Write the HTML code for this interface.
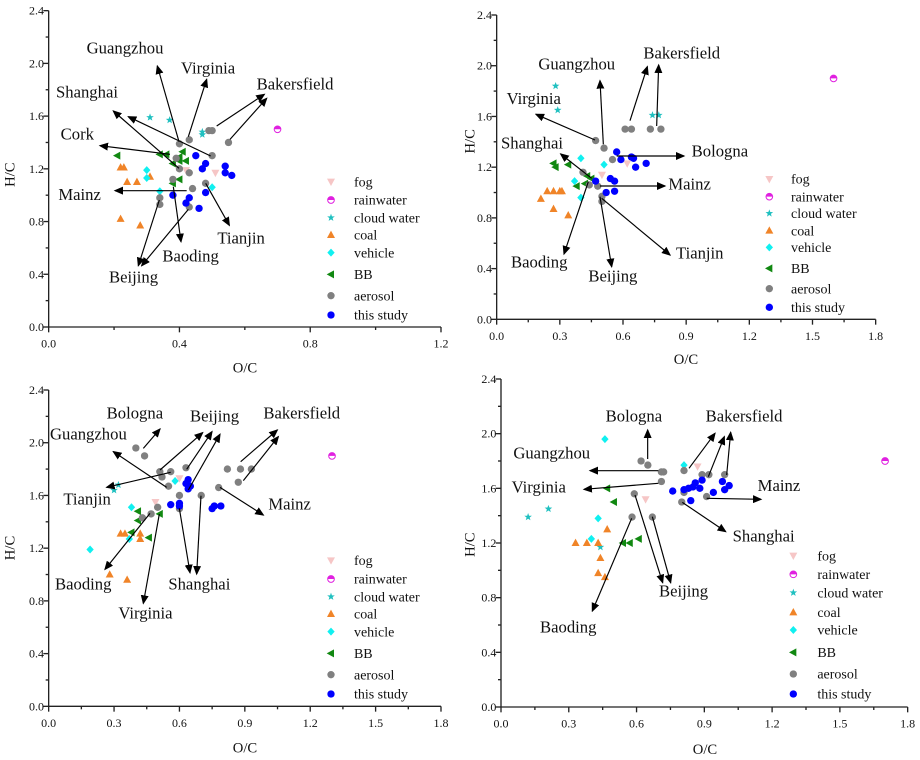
<!DOCTYPE html>
<html><head><meta charset="utf-8"><style>
html,body{margin:0;padding:0;background:#fff;}
svg{display:block;}
svg text{font-family:"Liberation Serif","DejaVu Serif",serif !important;fill:#111;}
</style></head><body>
<svg id="chart" width="920" height="760" viewBox="0 0 920 760" font-family="Liberation Serif, serif">
<defs><marker id="ah" markerUnits="userSpaceOnUse" markerWidth="28" markerHeight="24" refX="24" refY="12" orient="auto"><path d="M0,0 L28,12 L0,24 z" fill="#000"/></marker></defs>
</svg>
<script>
// ---- data: [O/C, H/C] pairs per series, per panel ----
const series = ["fog","rainwater","cloud water","coal","vehicle","BB","aerosol","this study"];
// panel A (top-left)
const aFog=[[0.42,1.19],[0.51,1.17]];
const aRain=[[0.70,1.50]];
const aCloud=[[0.31,1.59],[0.37,1.57],[0.47,1.48],[0.47,1.46]];
const aCoal=[[0.22,1.21],[0.23,1.21],[0.24,1.10],[0.27,1.10],[0.31,1.14],[0.22,0.82],[0.28,0.77]];
const aVeh=[[0.30,1.19],[0.30,1.13],[0.34,1.03],[0.50,1.06]];
const aBB=[[0.21,1.30],[0.34,1.31],[0.36,1.31],[0.38,1.24],[0.40,1.29],[0.41,1.33],[0.40,1.26],[0.42,1.26],[0.40,1.12],[0.38,1.09]];
const aAer=[[0.40,1.39],[0.43,1.42],[0.49,1.49],[0.50,1.49],[0.55,1.40],[0.50,1.30],[0.39,1.28],[0.40,1.20],[0.43,1.17],[0.38,1.12],[0.48,1.09],[0.44,1.05],[0.34,0.98],[0.34,0.93],[0.43,0.91]];
const aThis=[[0.45,1.30],[0.48,1.24],[0.47,1.20],[0.54,1.22],[0.54,1.17],[0.56,1.15],[0.48,1.02],[0.38,1.00],[0.43,0.98],[0.42,0.94],[0.46,0.90]];
// panel B (top-right)
const bFog=[[0.50,1.14],[0.62,1.23]];
const bRain=[[1.60,1.90]];
const bCloud=[[0.28,1.84],[0.29,1.65],[0.74,1.61],[0.77,1.61]];
const bCoal=[[0.21,0.95],[0.24,1.01],[0.27,1.01],[0.30,1.01],[0.31,1.01],[0.27,0.87],[0.34,0.82]];
const bVeh=[[0.40,1.27],[0.51,1.22],[0.37,1.09],[0.40,0.96]];
const bBB=[[0.27,1.23],[0.28,1.20],[0.34,1.22],[0.43,1.13],[0.45,1.11],[0.38,1.05],[0.42,1.07]];
const bAer=[[0.47,1.41],[0.51,1.35],[0.61,1.50],[0.64,1.50],[0.73,1.50],[0.78,1.50],[0.55,1.26],[0.41,1.16],[0.44,1.06],[0.48,1.05],[0.50,0.97],[0.50,0.93]];
const bThis=[[0.57,1.32],[0.59,1.26],[0.64,1.28],[0.65,1.27],[0.66,1.20],[0.71,1.23],[0.47,1.09],[0.54,1.11],[0.56,1.09],[0.52,1.00],[0.56,1.01]];
// panel C (bottom-left)
const cFog=[[0.49,1.55],[0.60,1.73]];
const cRain=[[1.30,1.90]];
const cCloud=[[0.30,1.64],[0.32,1.68]];
const cCoal=[[0.28,1.00],[0.36,0.96],[0.33,1.31],[0.35,1.31],[0.42,1.31],[0.42,1.27]];
const cVeh=[[0.19,1.19],[0.38,1.51],[0.37,1.27],[0.58,1.71]];
const cBB=[[0.41,1.48],[0.41,1.41],[0.38,1.32],[0.46,1.28],[0.51,1.46]];
const cAer=[[0.40,1.96],[0.44,1.90],[0.52,1.74],[0.56,1.78],[0.51,1.78],[0.55,1.67],[0.63,1.81],[0.60,1.60],[0.60,1.50],[0.50,1.51],[0.47,1.46],[0.43,1.43],[0.70,1.60],[0.78,1.66],[0.82,1.80],[0.88,1.80],[0.93,1.80],[0.87,1.70]];
const cThis=[[0.64,1.72],[0.63,1.69],[0.65,1.67],[0.64,1.65],[0.56,1.53],[0.60,1.54],[0.60,1.52],[0.75,1.50],[0.76,1.52],[0.79,1.52]];
// panel D (bottom-right)
const dFog=[[0.64,1.52],[0.87,1.76]];
const dRain=[[1.70,1.80]];
const dCloud=[[0.12,1.39],[0.21,1.45],[0.44,1.17]];
const dCoal=[[0.33,1.20],[0.38,1.20],[0.43,1.20],[0.44,1.09],[0.43,0.98],[0.46,0.95],[0.47,1.30]];
const dVeh=[[0.46,1.96],[0.81,1.77],[0.43,1.38],[0.40,1.23]];
const dBB=[[0.47,1.60],[0.50,1.50],[0.54,1.20],[0.57,1.20],[0.61,1.23]];
const dAer=[[0.62,1.80],[0.65,1.77],[0.71,1.72],[0.72,1.72],[0.71,1.65],[0.59,1.56],[0.58,1.39],[0.67,1.39],[0.81,1.73],[0.89,1.70],[0.92,1.70],[0.99,1.70],[0.81,1.57],[0.80,1.50],[0.91,1.54]];
const dThis=[[0.76,1.58],[0.81,1.59],[0.83,1.60],[0.85,1.61],[0.86,1.64],[0.89,1.66],[0.88,1.60],[0.84,1.51],[0.94,1.57],[0.98,1.65],[0.99,1.59],[1.01,1.62]];
const yTicks=[0,0.4,0.8,1.2,1.6,2.0,2.4];
const xTicksA=[0,0.4,0.8,1.2];
const xTicksB=[0,0.3,0.6,0.9,1.2,1.5,1.8];

const NS="http://www.w3.org/2000/svg";
const FONT='"Liberation Serif", serif';
const svg=document.getElementById('chart');
function mk(tag,attrs,parent){const e=document.createElementNS(NS,tag);for(const k in attrs)e.setAttribute(k,attrs[k]);if(tag==='text')e.style.fontFamily=FONT;parent.appendChild(e);return e;}
const styles={
 "fog":{t:"down",c:"#f6c6c6"},"rainwater":{t:"rain",c:"#e020e0"},"cloud water":{t:"star",c:"#20c0c0"},
 "coal":{t:"up",c:"#f08428"},"vehicle":{t:"diamond",c:"#10f0f0"},"BB":{t:"left",c:"#118811"},
 "aerosol":{t:"circle",c:"#808080"},"this study":{t:"circle",c:"#0000ff"}};
function marker(g,name,x,y){
 const s=styles[name];let e;
 if(s.t==="circle"){e=mk('circle',{cx:x,cy:y,r:11,fill:s.c},g);}
 else if(s.t==="rain"){e=mk('g',{},g);mk('circle',{cx:x,cy:y,r:10,fill:'#fff',stroke:s.c,'stroke-width':3},e);mk('path',{d:`M${x-10},${y} A10,10 0 0 1 ${x+10},${y} z`,fill:s.c},e);}
 else if(s.t==="up"){e=mk('polygon',{points:`${x},${y-13} ${x+12},${y+9} ${x-12},${y+9}`,fill:s.c},g);}
 else if(s.t==="down"){e=mk('polygon',{points:`${x},${y+13} ${x+12},${y-9} ${x-12},${y-9}`,fill:s.c},g);}
 else if(s.t==="left"){e=mk('polygon',{points:`${x-13},${y} ${x+9},${y-12} ${x+9},${y+12}`,fill:s.c},g);}
 else if(s.t==="diamond"){e=mk('polygon',{points:`${x},${y-12} ${x+11},${y} ${x},${y+12} ${x-11},${y}`,fill:s.c},g);}
 else {let p=[];for(let i=0;i<10;i++){const r=i%2?5:12,a=-Math.PI/2+i*Math.PI/5;p.push((x+r*Math.cos(a)).toFixed(1)+','+(y+r*Math.sin(a)).toFixed(1));}e=mk('polygon',{points:p.join(' '),fill:s.c},g);}
 return e;
}
const panels=[
 {id:"a",ox:0,oy:0,x0:146,x1:1323,xmax:1.2,xt:xTicksA,xminor:0.2,y0:981,yt:32,data:[aFog,aRain,aCloud,aCoal,aVeh,aBB,aAer,aThis],
  yTitle:[30,510],xTitle:[735,1118],leg:{mx:993,tx:1062,ys:[545,600,653,705,758,823,887,945]},
  labels:[["Guangzhou",260,160],["Virginia",543,220],["Bakersfield",770,268],["Shanghai",168,293],["Cork",182,418],["Mainz",175,600],["Tianjin",652,730],["Baoding",487,785],["Beijing",327,848]],
  arrows:[[537,425,472,198],[565,410,620,238],[650,378,793,283],[690,418,800,295],[537,505,340,333],[632,468,385,350],[510,463,300,437],[560,572,345,572],[617,550,688,676],[520,560,543,725],[478,600,415,797],[565,628,425,797]]},
 {id:"b",ox:460,oy:0,x0:110,x1:1247,xmax:1.8,xt:xTicksB,xminor:0.15,y0:958,yt:45,data:[bFog,bRain,bCloud,bCoal,bVeh,bBB,bAer,bThis],
  yTitle:[30,410],xTitle:[678,1092],leg:{mx:928,tx:993,ys:[537,590,640,692,742,805,866,922]},
  labels:[["Bakersfield",550,175],["Guangzhou",235,208],["Virginia",140,312],["Shanghai",123,445],["Bologna",695,470],["Mainz",625,568],["Tianjin",648,775],["Baoding",153,803],["Beijing",385,845]],
  arrows:[[510,362,562,200],[590,378,596,195],[430,433,420,242],[405,420,228,343],[395,535,302,462],[470,468,672,468],[420,558,615,558],[425,595,630,765],[385,545,312,762],[420,590,455,800]]},
 {id:"c",ox:0,oy:380,x0:146,x1:1323,xmax:1.8,xt:xTicksB,xminor:0.15,y0:979,yt:30,data:[cFog,cRain,cCloud,cCoal,cVeh,cBB,cAer,cThis],
  yTitle:[30,490],xTitle:[735,1118],leg:{mx:993,tx:1062,ys:[541,597,650,702,755,820,884,942]},
  labels:[["Bologna",320,115],["Beijing",570,125],["Bakersfield",790,115],["Guangzhou",150,178],["Tianjin",190,373],["Mainz",805,388],["Shanghai",505,628],["Baoding",165,628],["Virginia",355,715]],
  arrows:[[430,205,480,147],[480,270,608,158],[560,268,636,155],[565,330,660,163],[722,245,832,150],[730,302,835,170],[500,322,340,215],[512,277,320,322],[660,322,790,405],[538,385,570,578],[603,347,590,582],[450,400,315,568],[478,402,430,670]]},
 {id:"d",ox:460,oy:380,x0:123,x1:1343,xmax:1.8,xt:xTicksB,xminor:0.15,y0:981,yt:-3,data:[dFog,dRain,dCloud,dCoal,dVeh,dBB,dAer,dThis],
  yTitle:[30,480],xTitle:[735,1122],leg:{mx:1000,tx:1072,ys:[527,583,638,697,750,817,882,942]},
  labels:[["Bologna",437,125],["Bakersfield",737,125],["Guangzhou",160,235],["Virginia",155,338],["Mainz",893,333],["Shanghai",818,485],["Beijing",597,650],["Baoding",240,758]],
  arrows:[[563,237,563,150],[687,265,765,160],[745,290,793,170],[800,285,812,157],[595,272,390,272],[595,310,372,328],[740,355,903,358],[667,367,797,455],[525,345,608,608],[577,410,632,608],[515,415,397,693]]}
];
panels.forEach(P=>{
 const g=mk('g',{transform:`translate(${P.ox},${P.oy}) scale(0.33333)`},svg);
 
 
 const sx=v=>P.x0+v/P.xmax*(P.x1-P.x0);
 const sy=v=>P.y0-v/2.4*(P.y0-P.yt);
 const ax=mk('g',{stroke:'#222','stroke-width':4,fill:'none'},g);
 
 
 mk('line',{x1:P.x0,y1:P.y0,x2:P.x1,y2:P.y0},ax);
 mk('line',{x1:P.x0,y1:P.y0,x2:P.x0,y2:P.yt},ax);
 for(let v=0;v<=2.4001;v+=0.2){const major=Math.abs(v/0.4-Math.round(v/0.4))<1e-6;mk('line',{x1:P.x0-(major?16:9),y1:sy(v),x2:P.x0,y2:sy(v)},ax);}
 for(let v=0;v<=P.xmax+1e-6;v+=P.xminor){const r=v/(P.xminor*2);const major=Math.abs(r-Math.round(r))<1e-6;mk('line',{x1:sx(v),y1:P.y0,x2:sx(v),y2:P.y0+(major?16:9)},ax);}
 yTicks.forEach(v=>{const t=mk('text',{x:P.x0-14,y:sy(v)+12,'text-anchor':'end','font-size':36},g);t.textContent=v.toFixed(1);
  
  });
 P.xt.forEach(v=>{const t=mk('text',{x:sx(v),y:P.y0+62,'text-anchor':'middle','font-size':36},g);t.textContent=v.toFixed(1);
  
  });
 const yt=mk('text',{x:P.yTitle[0],y:P.yTitle[1],'text-anchor':'middle','font-size':44,transform:`rotate(-90 ${P.yTitle[0]+14} ${P.yTitle[1]})`},g);yt.textContent='H/C';
 
 
 const xt=mk('text',{x:P.xTitle[0],y:P.xTitle[1],'text-anchor':'middle','font-size':44},g);xt.textContent='O/C';
 
 
 series.forEach((s,i)=>{
  const sg=mk('g',{},g);
  
  
  P.data[i].forEach(p=>{const m=marker(sg,s,sx(p[0]),sy(p[1]));
   
   });
 });
 P.arrows.forEach(a=>{const l=mk('line',{x1:a[0],y1:a[1],x2:a[2],y2:a[3],stroke:'#000','stroke-width':3.5,'marker-end':'url(#ah)'},g);
  
  });
 P.labels.forEach(L=>{const t=mk('text',{x:L[1],y:L[2],'font-size':50},g);t.textContent=L[0];
  
  });
 const lg=mk('g',{},g);
 
 
 series.forEach((s,i)=>{const y=P.leg.ys[i];marker(lg,s,P.leg.mx,y);
  const t=mk('text',{x:P.leg.tx,y:y+14,'font-size':42},lg);t.textContent=s;
  
  });
});
</script>
</body></html>
